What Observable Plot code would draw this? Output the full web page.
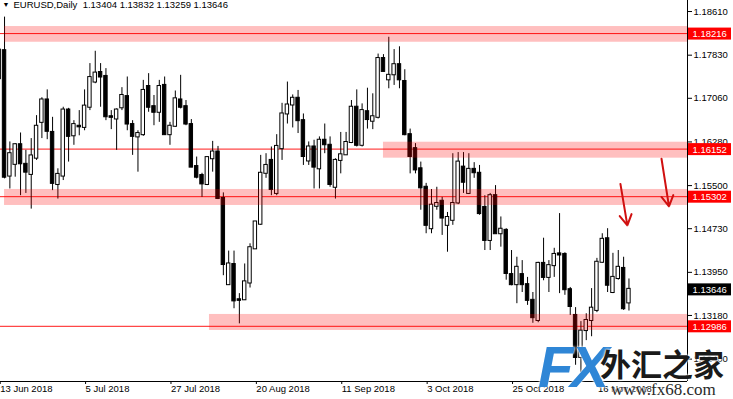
<!DOCTYPE html>
<html><head><meta charset="utf-8">
<script src="https://cdn.jsdelivr.net/npm/d3@7"></script>
<script src="https://cdn.jsdelivr.net/npm/@observablehq/plot@0.6"></script>
<style>
body{margin:0;background:#fff;}
#wrap{position:relative;width:733px;height:399px;overflow:hidden;background:#fff;}
.wm{position:absolute;white-space:nowrap;line-height:1;text-shadow:0 0 2px #fff,0 0 3px #fff;}
</style></head><body><div id="wrap"></div>
<script>
// OHLC, EURUSD daily, bar 0 = 13 Jun 2018
const open = [1.1741,1.1791,1.1567,1.1588,1.1623,1.1588,1.1570,1.1599,1.1663,1.1703,
1.1645,1.1552,1.1567,1.1685,1.1639,1.1656,1.1654,1.1690,1.1735,1.1752,
1.1745,1.1673,1.1669,1.1689,1.1709,1.1659,1.1637,1.1641,1.1727,1.1691,
1.1681,1.1729,1.1641,1.1656,1.1703,1.1691,1.1659,1.1584,1.1568,1.1552,
1.1598,1.1610,1.1527,1.1373,1.1409,1.1346,1.1346,1.1376,1.1437,1.1481,
1.1572,1.1595,1.1536,1.1616,1.1678,1.1694,1.1706,1.1666,1.1594,1.1619,
1.1580,1.1631,1.1622,1.1547,1.1595,1.1605,1.1627,1.1690,1.1622,1.1682,
1.1665,1.1672,1.1777,1.1739,1.1748,1.1766,1.1736,1.1641,1.1616,1.1580,
1.1547,1.1473,1.1513,1.1522,1.1479,1.1488,1.1519,1.1583,1.1536,1.1579,
1.1572,1.1511,1.1452,1.1532,1.1464,1.1470,1.1391,1.1373,1.1391,1.1373,
1.1345,1.1309,1.1411,1.1386,1.1407,1.1428,1.1427,1.1364,1.1318,1.1243,
1.1291,1.1309,1.1327,1.1413,1.1455,1.1359,1.1384,1.1402,1.13404];
const high = [1.1800,1.1851,1.1628,1.1625,1.1644,1.1613,1.1634,1.1675,1.1707,1.1721,
1.1672,1.1580,1.1690,1.1688,1.1666,1.1684,1.1721,1.1768,1.1790,1.1768,
1.1759,1.1684,1.1687,1.1725,1.1744,1.1666,1.1648,1.1738,1.1750,1.1711,
1.1738,1.1744,1.1663,1.1719,1.1747,1.1702,1.1668,1.1601,1.1572,1.1601,
1.1629,1.1620,1.1537,1.1433,1.1433,1.1357,1.1410,1.1446,1.1486,1.1604,
1.1607,1.1619,1.1641,1.1697,1.1735,1.1712,1.1720,1.1678,1.1628,1.1631,
1.1637,1.1660,1.1637,1.1598,1.1645,1.1645,1.1702,1.1721,1.1696,1.1724,
1.1714,1.1785,1.1784,1.1815,1.1793,1.1798,1.1757,1.1651,1.1625,1.1592,
1.1554,1.1543,1.1547,1.1529,1.1502,1.1607,1.1609,1.1609,1.1607,1.1591,
1.1586,1.1532,1.1536,1.1550,1.1494,1.1473,1.1434,1.1422,1.1416,1.1386,
1.1359,1.1413,1.1456,1.1416,1.1438,1.1500,1.1430,1.1368,1.1332,1.1307,
1.1321,1.1366,1.1420,1.1464,1.1473,1.1429,1.1434,1.1422,1.13832];
const low = [1.1727,1.1562,1.1544,1.1565,1.1532,1.1536,1.1508,1.1595,1.1634,1.1632,
1.1541,1.1526,1.1559,1.1592,1.1622,1.1639,1.1648,1.1684,1.1732,1.1690,
1.1666,1.1650,1.1613,1.1684,1.1648,1.1604,1.1574,1.1638,1.1681,1.1657,
1.1663,1.1640,1.1622,1.1654,1.1687,1.1657,1.1582,1.1562,1.1529,1.1550,
1.1574,1.1525,1.1389,1.1372,1.1330,1.1303,1.1345,1.1367,1.1436,1.1479,
1.1563,1.1532,1.1532,1.1595,1.1660,1.1653,1.1643,1.1586,1.1586,1.1544,
1.1544,1.1607,1.1547,1.1526,1.1571,1.1604,1.1625,1.1619,1.1619,1.1651,
1.1650,1.1669,1.1753,1.1723,1.1729,1.1723,1.1639,1.1571,1.1571,1.1506,
1.1464,1.1464,1.1506,1.1461,1.1431,1.1479,1.1516,1.1536,1.1534,1.1563,
1.1497,1.1434,1.1434,1.1464,1.1440,1.1381,1.1371,1.1339,1.1359,1.1336,
1.1304,1.1305,1.1380,1.1359,1.1386,1.1357,1.1354,1.1318,1.1229,1.1216,
1.1273,1.1280,1.1323,1.1411,1.1359,1.1357,1.1381,1.1327,1.13259];
const close = [1.1792,1.1565,1.1607,1.1623,1.1589,1.1574,1.1603,1.1656,1.1703,1.1647,
1.1554,1.1570,1.1685,1.1638,1.1659,1.1655,1.1692,1.1743,1.1751,1.1744,
1.1673,1.1672,1.1685,1.1711,1.1660,1.1638,1.1643,1.1720,1.1690,1.1681,
1.1727,1.1641,1.1656,1.1705,1.1690,1.1660,1.1583,1.1565,1.1553,1.1600,
1.1610,1.1527,1.1409,1.1410,1.1344,1.1345,1.1378,1.1439,1.1485,1.1572,
1.1586,1.1543,1.1620,1.1678,1.1694,1.1706,1.1666,1.1602,1.1619,1.1583,
1.1631,1.1623,1.1552,1.1595,1.1605,1.1627,1.1690,1.1622,1.1684,1.1668,
1.1673,1.1777,1.1754,1.1747,1.1766,1.1739,1.1641,1.1602,1.1578,1.1546,
1.1479,1.1515,1.1518,1.1492,1.1493,1.1518,1.1592,1.1556,1.1579,1.1573,
1.1500,1.1452,1.1532,1.1464,1.1472,1.1393,1.1373,1.1404,1.1373,1.1345,
1.1314,1.1411,1.1386,1.1407,1.1427,1.1426,1.1364,1.1334,1.1243,1.1290,
1.1309,1.1331,1.1413,1.1454,1.1372,1.1386,1.1404,1.1330,1.13646];

const dateTickIndex = [0,16,32,48,64,80,96,112];
const dateTickLabels = ["13 Jun 2018","5 Jul 2018","27 Jul 2018","20 Aug 2018","11 Sep 2018","3 Oct 2018","25 Oct 2018","16 Nov 2018"];
const priceTicks = [1.18610,1.17830,1.17060,1.16280,1.15500,1.14730,1.13950,1.13180,1.12400];

const levels = [1.18216,1.16152,1.15302,1.12986];
const zoneTop = [1.18342,1.16275,1.15431,1.13198];
const zoneBottom = [1.18061,1.15990,1.15145,1.12912];
const zoneStart = [1,72,1,39.4];

const arrowX1 = [116.4,124.1], arrowY1 = [1.1553,1.1598];
const arrowX2 = [117.7,125.5], arrowY2 = [1.1479,1.1513];

const symbolName = "EURUSD,Daily";
const xDomain = [0.2436,128.97];
const yDomain = [1.1200,1.18807];

const bars = close.map((c,i)=>({i,o:open[i],h:high[i],l:low[i],c,fill:c>=open[i]?"white":"black"}));
const zones = levels.map((v,k)=>({start:zoneStart[k],top:zoneTop[k],bottom:zoneBottom[k]}));
const arrows = arrowX1.map((x,k)=>({x1:x,y1:arrowY1[k],x2:arrowX2[k],y2:arrowY2[k]}));
const tags = levels.map(v=>({v,color:"#ff0000"})).concat([{v:close[close.length-1],color:"#000000"}]);
const last = bars[bars.length-1];
const header = `${symbolName}  ${last.o.toFixed(5)} ${last.h.toFixed(5)} ${last.l.toFixed(5)} ${last.c.toFixed(5)}`;
const xMax = xDomain[1];

const chart = Plot.plot({
  width:733, height:399,
  marginTop:0, marginLeft:0, marginRight:46, marginBottom:18,
  x:{domain:xDomain, axis:null},
  y:{domain:yDomain, axis:null},
  style:{fontFamily:"'Liberation Sans', Arial, sans-serif", fontSize:"9.5px", background:"white", color:"black", overflow:"visible"},
  marks:[
    Plot.ruleY(levels,{stroke:"#ff1a1a", strokeWidth:1}),
    Plot.ruleX(bars,{x:"i", y1:"l", y2:"h", stroke:"black", strokeWidth:1}),
    Plot.rect(bars,{x1:d=>d.i-0.32, x2:d=>d.i+0.32, y1:"o", y2:"c", insetTop:-0.5, insetBottom:-0.5, fill:"fill", stroke:"black", strokeWidth:1}),
    Plot.rect(zones,{x1:"start", x2:()=>xMax, y1:"top", y2:"bottom", fill:"#ff0000", fillOpacity:0.25}),
    Plot.arrow(arrows,{x1:"x1", y1:"y1", x2:"x2", y2:"y2", stroke:"#d01010", strokeWidth:2, headLength:9, bend:0}),
    Plot.ruleX([xMax],{stroke:"black"}),
    Plot.ruleY([yDomain[0]],{stroke:"black"}),
    Plot.axisY(priceTicks,{anchor:"right", tickSize:4, tickPadding:2, tickFormat:d=>d.toFixed(5), label:null, fontSize:9.5}),
    Plot.axisX(dateTickIndex,{anchor:"bottom", tickSize:3, tickPadding:1, tickFormat:d=>dateTickLabels[dateTickIndex.indexOf(d)], textAnchor:"start", dx:1, label:null, fontSize:9.5}),
    Plot.rect(tags,{x1:()=>xMax, x2:()=>xMax, y1:"v", y2:"v", insetLeft:1, insetRight:-44, insetTop:-5.5, insetBottom:-6.5, fill:"color"}),
    Plot.text(tags,{x:()=>xMax, y:"v", text:d=>d.v.toFixed(5), dx:5, dy:0.5, textAnchor:"start", fill:"white", fontSize:9.5}),
    Plot.text(["\u25BC"],{frameAnchor:"top-left", dx:2, dy:2, fontSize:7, fill:"black", lineAnchor:"top"}),
    Plot.text([header],{frameAnchor:"top-left", dx:13, dy:1, textAnchor:"start", lineAnchor:"top", fontSize:9.5, fill:"black"})
  ]
});
const wrap = document.getElementById("wrap");
wrap.appendChild(chart);

// watermark
const wm1 = document.createElement("div");
wm1.className="wm"; wm1.textContent="FX";
wm1.style.cssText+="left:538px;top:333px;font:italic bold 58px 'Liberation Sans',Arial,sans-serif;color:#2f86d6;letter-spacing:-3px;";
const wm2 = document.createElement("div");
wm2.className="wm"; wm2.textContent="外汇之家";
wm2.style.cssText+="left:600px;top:340px;font:bold 31px 'Noto Sans CJK SC',sans-serif;color:#1a1a1a;";
const wm3 = document.createElement("div");
wm3.className="wm"; wm3.textContent="www.fx68.com";
wm3.style.cssText+="left:611px;top:380px;font:17px 'Liberation Serif',serif;color:#2a2a2a;";
wrap.appendChild(wm1); wrap.appendChild(wm2); wrap.appendChild(wm3);
</script>
</body></html>
